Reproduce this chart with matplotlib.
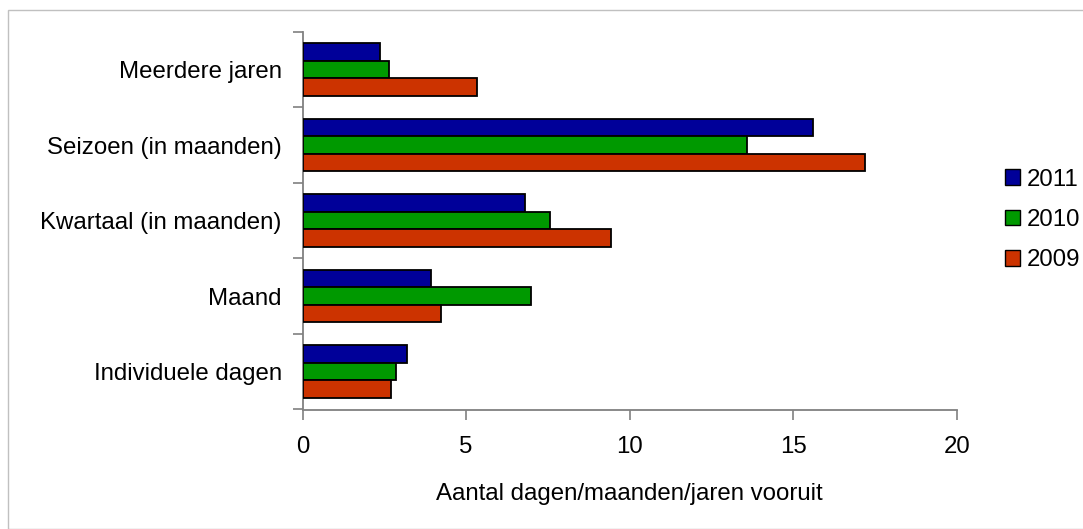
import matplotlib
matplotlib.use("Agg")
import matplotlib.pyplot as plt
from matplotlib.patches import Patch, Rectangle
import numpy as np

plt.rcParams['font.family'] = ['Liberation Sans', 'DejaVu Sans']

categories = ["Individuele dagen", "Maand", "Kwartaal (in maanden)", "Seizoen (in maanden)", "Meerdere jaren"]
series_names = ["2011", "2010", "2009"]
v2011 = [3.19, 3.92, 6.80, 15.60, 2.38]
v2010 = [2.87, 6.97, 7.57, 13.58, 2.63]
v2009 = [2.69, 4.22, 9.43, 17.19, 5.32]
colors = ["#000099", "#009900", "#CC3300"]
xticks = [0, 5, 10, 15, 20]

FS = 17.3

fig = plt.figure(figsize=(10.83, 5.29), dpi=100)
ax = fig.add_axes([302.5/1083, 1-409.5/529, (957-302.5)/1083, (409.5-31.7)/529])

y = np.arange(len(categories))
h = 0.2315
for vals, off, c, name in zip([v2011, v2010, v2009], [h, 0, -h], colors, series_names):
    ax.barh(y + off, vals, height=h, color=c, edgecolor="black", linewidth=1.3, label=name, zorder=3)

ax.set_xlim(0, 20)
ax.set_ylim(-0.5, len(categories) - 0.5)
ax.set_xticks(xticks)
ax.set_xticklabels([str(t) for t in xticks], fontsize=FS)
ax.set_yticks(y)
ax.set_yticklabels(categories, fontsize=FS)
ax.tick_params(axis='y', length=0, pad=15)
ax.set_yticks(np.arange(-0.5, len(categories)), minor=True)
ax.tick_params(axis='y', which='minor', length=7, color="#808080", width=1.2, direction='out')
ax.tick_params(axis='x', length=7, color="#808080", width=1.2, direction='out', pad=12)
for s in ['top', 'right']:
    ax.spines[s].set_visible(False)
for s in ['left', 'bottom']:
    ax.spines[s].set_color("#808080")
    ax.spines[s].set_linewidth(1.3)
ax.set_xlabel("Aantal dagen/maanden/jaren vooruit", fontsize=FS, labelpad=18)

handles = [Patch(facecolor=c, edgecolor="black", linewidth=1.0) for c in colors]
fig.legend(handles, series_names, loc='center left', bbox_to_anchor=(1005/1083, 1-220/529),
           frameon=False, fontsize=FS, handlelength=0.62, handleheight=0.62,
           handletextpad=0.3, labelspacing=0.76, borderaxespad=0, borderpad=0)

fig.patches.append(Rectangle((8/1083, 0), 1.2, 1 - 10/529, transform=fig.transFigure,
                             fill=False, edgecolor="#C0C0C0", linewidth=1.0))

fig.savefig("out.png", dpi=100)
